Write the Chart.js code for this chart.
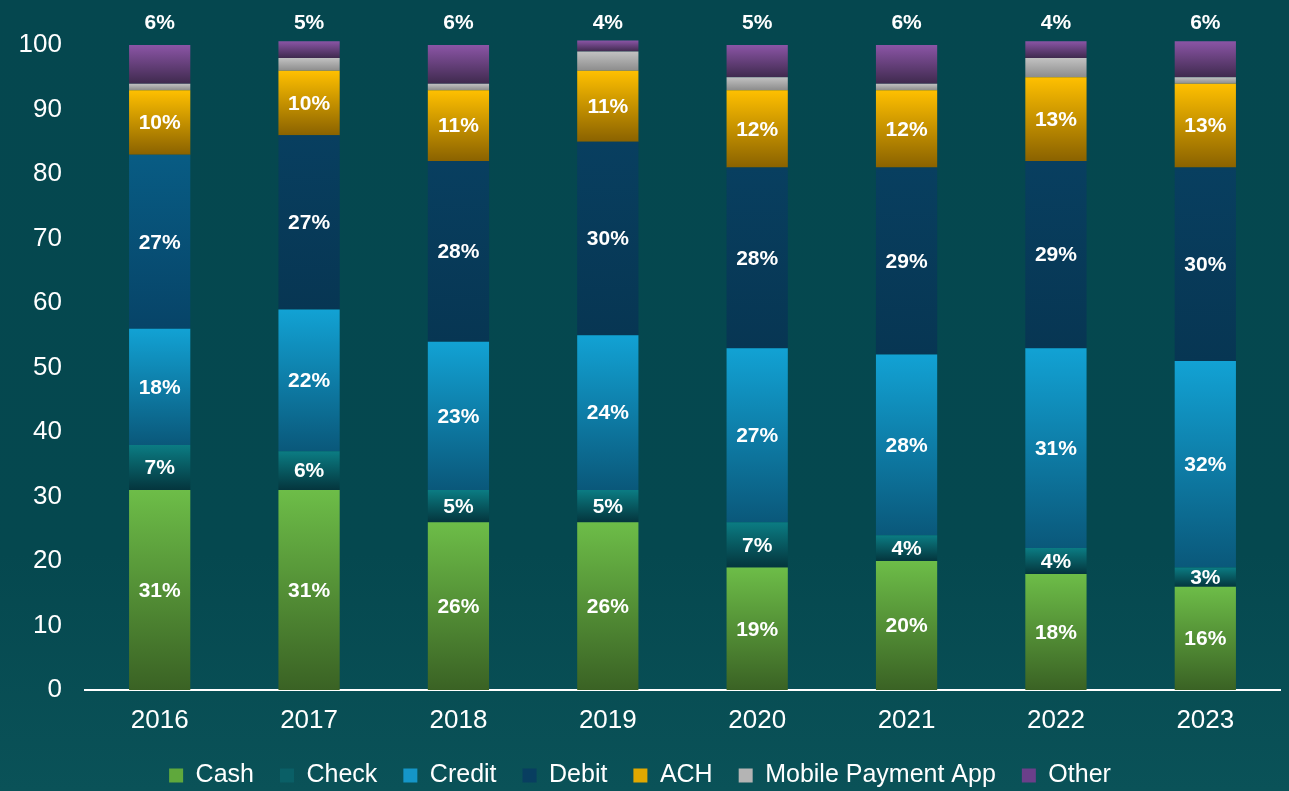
<!DOCTYPE html>
<html>
<head>
<meta charset="utf-8">
<script src="https://cdn.jsdelivr.net/npm/chart.js@4.4.1/dist/chart.umd.min.js"></script>
<style>
  body { margin: 0; background: #05474f; }
  #wrap { width: 1289px; height: 791px; background: linear-gradient(#05474f 0%, #05484f 70%, #0a5258 100%); }
</style>
</head>
<body>
<div id="wrap"><canvas id="paymentChart" width="1289" height="791"></canvas></div>
<script>
// ========== chart data ==========
const years = ['2016', '2017', '2018', '2019', '2020', '2021', '2022', '2023']
const cash = [31, 31, 26, 26, 19, 20, 18, 16]
const check = [7, 6, 5, 5, 7, 4, 4, 3]
const credit = [18, 22, 23, 24, 27, 28, 31, 32]
const debit = [27, 27, 28, 30, 28, 29, 29, 30]
const ach = [10, 10, 11, 11, 12, 12, 13, 13]
const mobile = [1, 2, 1, 3, 2, 1, 3, 1]
const other = [6, 2.6, 6, 1.7, 5, 6, 2.6, 5.6]
const otherLabels = [6, 5, 6, 4, 5, 6, 4, 6]
const yTicks = { min: 0, max: 100, step: 10 }

Chart.defaults.font.family = "'Liberation Sans', Arial, sans-serif"
Chart.defaults.color = '#ffffff'

const legendColors = ['#5fa83c', '#0a5f66', '#1596c8', '#083e60', '#e0a800', '#b4b4b4', '#6b3f8a']

// ========== gradient per segment (light top -> dark bottom) ==========
function grad(top, bottom, flat) {
    return function(c) {
        const chart = c.chart
        if (c.type !== 'data' || !chart.chartArea) return flat
        const ds = c.datasetIndex, i = c.dataIndex
        let base = 0
        for (let k = 0; k < ds; k++) base += chart.data.datasets[k].data[i]
        const y = chart.scales.y
        const y1 = y.getPixelForValue(base + chart.data.datasets[ds].data[i])
        const y0 = y.getPixelForValue(base)
        const g = chart.ctx.createLinearGradient(0, y1, 0, y0)
        let t = top, b = bottom
        if (ds === 3 && i === 0) { t = '#085c84'; b = '#074468' } // 2016 debit looks lighter
        g.addColorStop(0, t)
        g.addColorStop(1, b)
        return g
    }
}

function makeSet(label, data, top, bottom, flat) {
    return {
        label: label,
        data: data,
        backgroundColor: grad(top, bottom, flat),
        borderWidth: 0,
        clip: false
    }
}

// ========== labels plugin ==========
const labelPlugin = {
    id: 'segLabels',
    afterDatasetsDraw(chart) {
        const ctx = chart.ctx
        ctx.save()
        ctx.fillStyle = '#ffffff'
        ctx.font = "bold 21px 'Liberation Sans', Arial, sans-serif"
        ctx.textAlign = 'center'
        ctx.textBaseline = 'middle'
        for (let d = 0; d < 5; d++) {
            const meta = chart.getDatasetMeta(d)
            meta.data.forEach((bar, i) => {
                const v = chart.data.datasets[d].data[i]
                ctx.fillText(v + '%', bar.x, (bar.y + bar.base) / 2 + 1)
            })
        }
        const top = chart.getDatasetMeta(6)
        top.data.forEach((bar, i) => {
            ctx.fillText(otherLabels[i] + '%', bar.x, chart.chartArea.top - 22)
        })
        ctx.restore()
    }
}

const ctx = document.getElementById('paymentChart').getContext('2d')
new Chart(ctx, {
    type: 'bar',
    data: {
        labels: years,
        datasets: [
            makeSet('Cash', cash, '#6dbd48', '#3a6224', legendColors[0]),
            makeSet('Check', check, '#0b7c83', '#04353d', legendColors[1]),
            makeSet('Credit', credit, '#12a2d4', '#0a587a', legendColors[2]),
            makeSet('Debit', debit, '#083f60', '#073653', legendColors[3]),
            makeSet('ACH', ach, '#ffc000', '#8a6200', legendColors[4]),
            makeSet('Mobile Payment App', mobile, '#c2c2c2', '#8c8c8c', legendColors[5]),
            makeSet('Other', other, '#8b55a6', '#3f2a4e', legendColors[6])
        ]
    },
    options: {
        responsive: false,
        animation: false,
        layout: { padding: { top: 45, right: 9, left: 0, bottom: 2 } },
        datasets: { bar: { barPercentage: 0.41, categoryPercentage: 1 } },
        scales: {
            x: {
                stacked: true,
                grid: { display: false, drawTicks: false },
                border: { display: true, color: '#ffffff', width: 2 },
                ticks: { color: '#ffffff', font: { size: 26 }, padding: 15 },
                afterFit(scale) { scale.height = 47 }
            },
            y: {
                stacked: true,
                min: yTicks.min,
                max: yTicks.max,
                grid: { display: false, drawTicks: false },
                border: { display: false },
                ticks: { stepSize: yTicks.step, color: '#ffffff', font: { size: 26 }, padding: 23 },
                afterFit(scale) { scale.width = 85 }
            }
        },
        plugins: {
            legend: {
                position: 'bottom',
                maxHeight: 52,
                labels: {
                    color: '#ffffff',
                    font: { size: 25 },
                    boxWidth: 14,
                    boxHeight: 14,
                    padding: 26,
                    generateLabels(chart) {
                        const items = Chart.defaults.plugins.legend.labels.generateLabels(chart)
                        items.forEach((it, i) => {
                            it.fillStyle = legendColors[i]
                            it.strokeStyle = legendColors[i]
                            it.lineWidth = 0
                        })
                        return items
                    }
                }
            },
            tooltip: { enabled: false }
        }
    },
    plugins: [labelPlugin]
})
</script>
</body>
</html>
